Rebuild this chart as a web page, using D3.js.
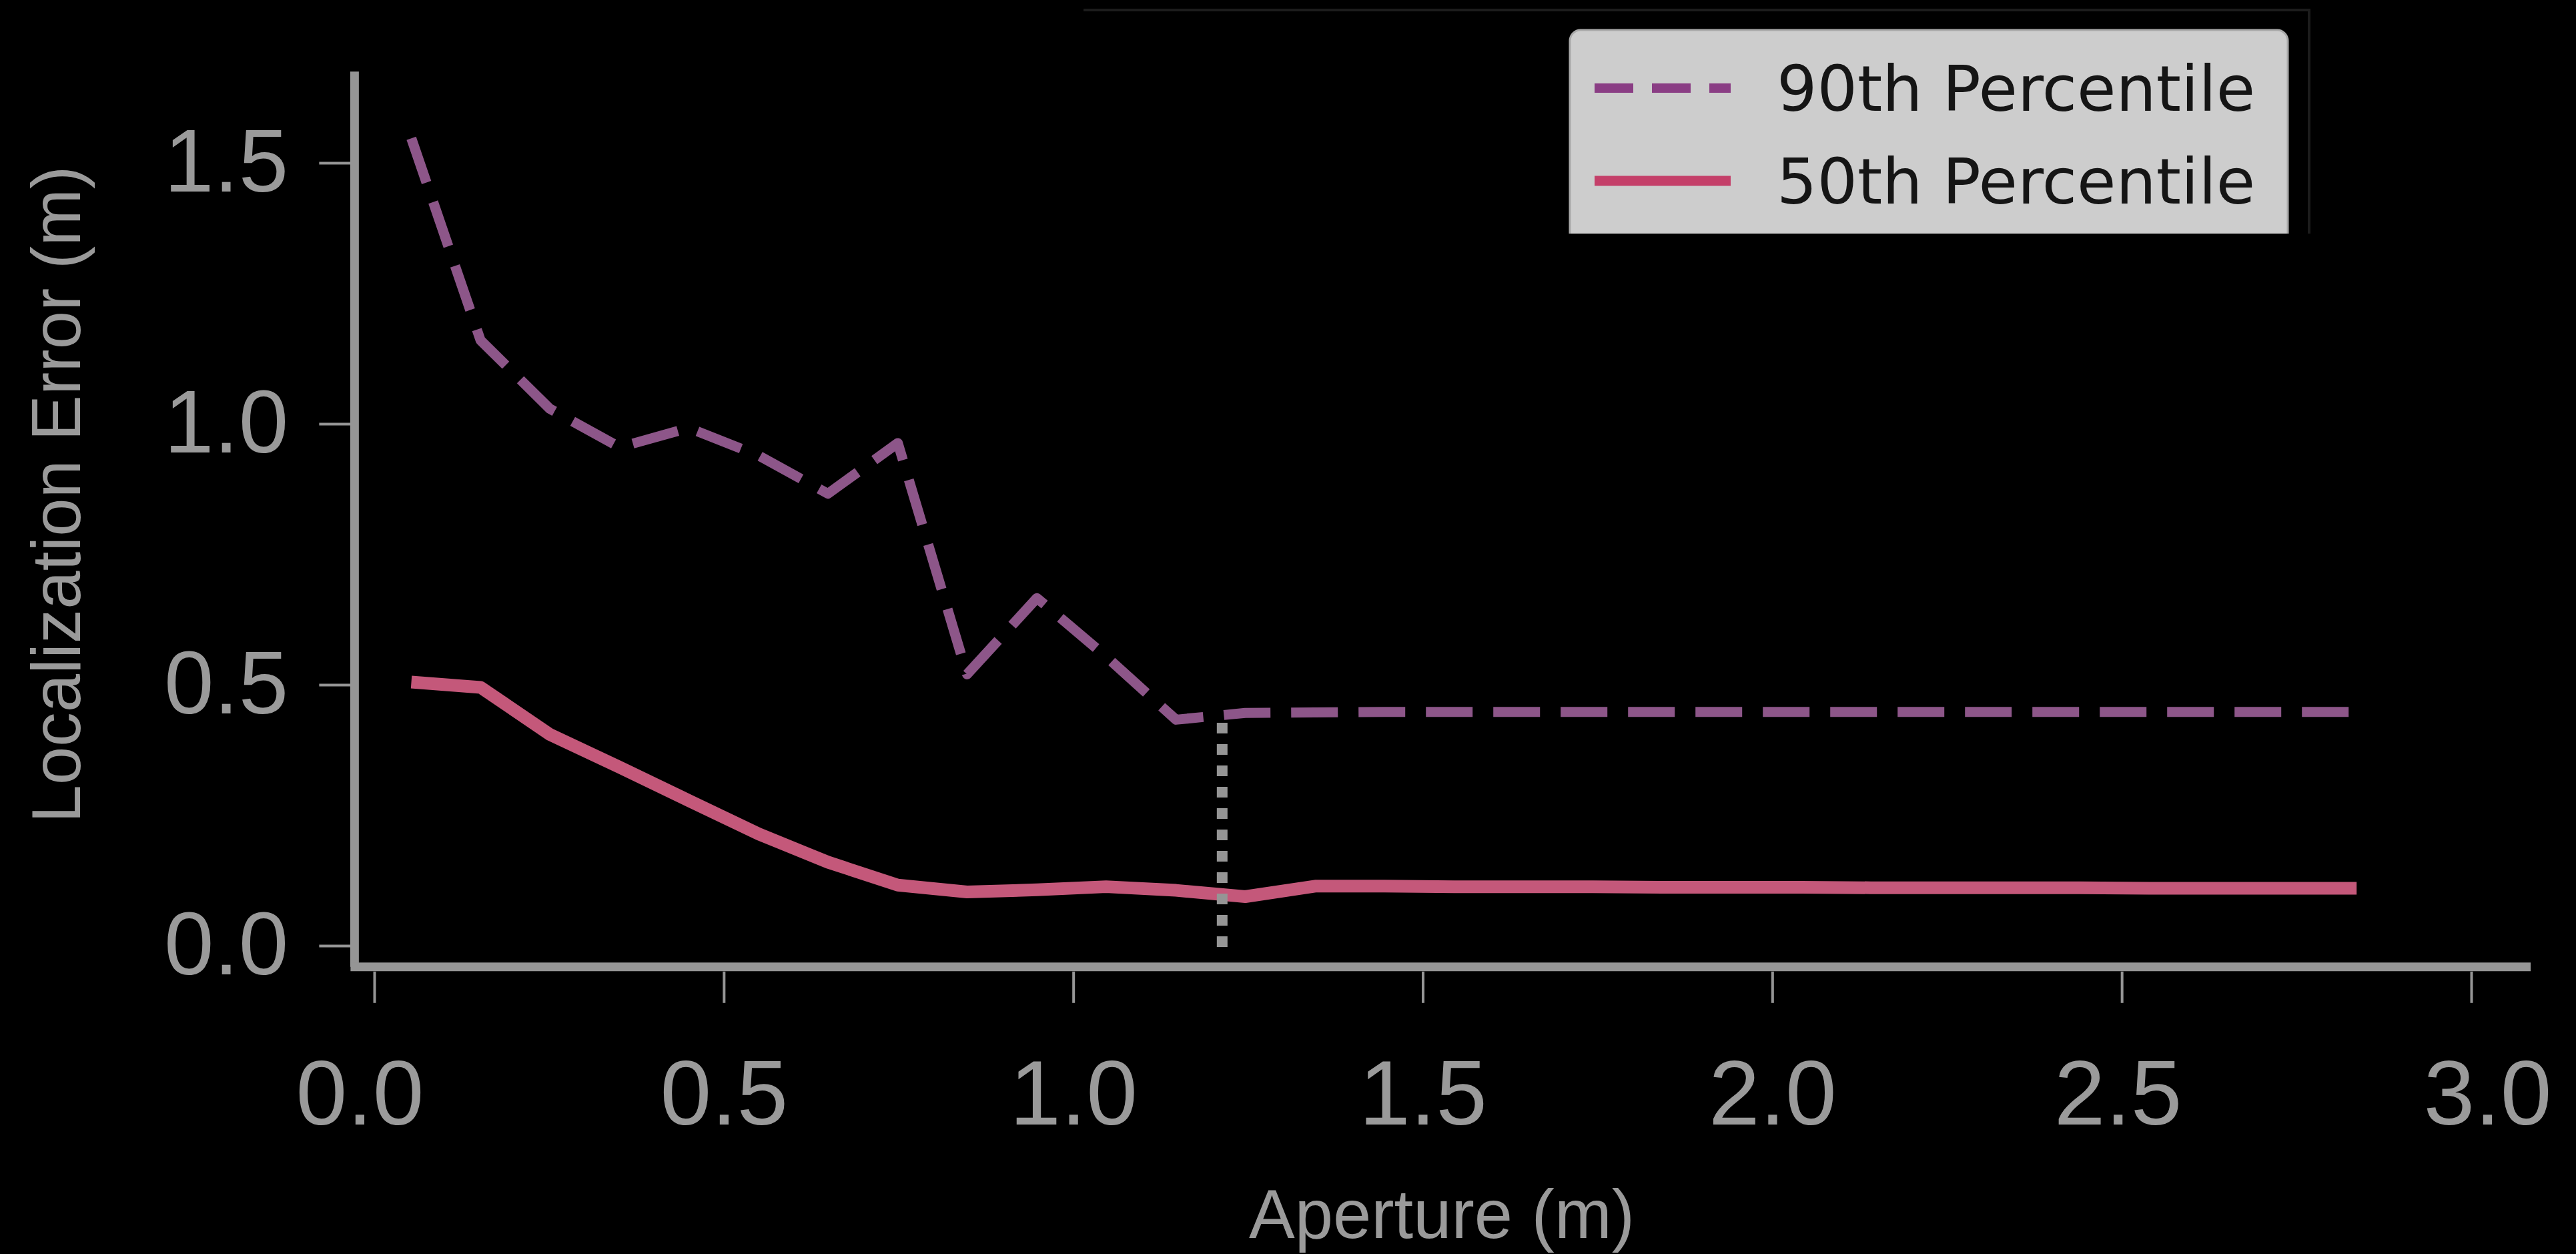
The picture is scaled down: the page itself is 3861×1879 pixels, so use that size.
<!DOCTYPE html>
<html>
<head>
<meta charset="utf-8">
<script src="https://cdn.jsdelivr.net/npm/d3@7"></script>
<style>
  html, body { margin: 0; padding: 0; background: #000; }
  svg { display: block; }
</style>
</head>
<body>
<svg id="chart" width="3861" height="1879"></svg>
<script>
// ---- data ----
const aperture = [0.053, 0.152, 0.251, 0.351, 0.450, 0.550, 0.649, 0.749, 0.848, 0.948,
                  1.047, 1.147, 1.246, 1.346, 1.445, 1.545, 1.644, 1.743, 1.843, 1.942,
                  2.042, 2.141, 2.241, 2.340, 2.440, 2.539, 2.639, 2.738, 2.836];
const p90 = [1.547, 1.160, 1.029, 0.955, 0.992, 0.939, 0.866, 0.963, 0.520, 0.666,
             0.554, 0.433, 0.446, 0.447, 0.448, 0.448, 0.448, 0.448, 0.448, 0.448,
             0.448, 0.448, 0.448, 0.448, 0.448, 0.448, 0.448, 0.448, 0.448];
const p50 = [0.505, 0.495, 0.405, 0.342, 0.278, 0.214, 0.160, 0.116, 0.103, 0.107,
             0.113, 0.106, 0.094, 0.114, 0.114, 0.113, 0.113, 0.113, 0.112, 0.112,
             0.112, 0.111, 0.111, 0.111, 0.111, 0.110, 0.110, 0.110, 0.110];
const markerX = [1.213];
const markerY = [0.427];
const xTicks = [0.0, 0.5, 1.0, 1.5, 2.0, 2.5, 3.0];
const yTicks = [0.0, 0.5, 1.0, 1.5];
const seriesNames = ["90th Percentile", "50th Percentile"];
const xExtent = [-0.034, 3.085];
const yExtent = [-0.033, 1.675];

// ---- setup ----
const svg = d3.select("#chart");
const x = d3.scaleLinear().domain([0, 3]).range([561, 3704]);
const y = d3.scaleLinear().domain([0, 1.5]).range([1417, 244]);

const axisColor = "#959595";
const textColor = "#9a9a9a";
const axisFont = "'Liberation Sans', Arial, Helvetica, sans-serif";

svg.append("rect").attr("width", 3861).attr("height", 1879).attr("fill", "#000");

// spines
svg.append("line")
  .attr("x1", x(xExtent[0]) + 6).attr("x2", x(xExtent[0]) + 6)
  .attr("y1", y(yExtent[1])).attr("y2", y(yExtent[0]) + 6)
  .attr("stroke", axisColor).attr("stroke-width", 13);
svg.append("line")
  .attr("x1", x(xExtent[0])).attr("x2", x(xExtent[1]))
  .attr("y1", y(yExtent[0]) + 6).attr("y2", y(yExtent[0]) + 6)
  .attr("stroke", axisColor).attr("stroke-width", 13);

// x axis ticks via d3 axis
const xAxis = d3.axisBottom(x).tickValues(xTicks).tickFormat(d3.format(".1f"))
  .tickSize(47).tickPadding(84);
const gx = svg.append("g").attr("transform", `translate(0,${y(yExtent[0]) + 13})`).call(xAxis);
gx.select(".domain").remove();
gx.selectAll(".tick line").attr("stroke", axisColor).attr("stroke-width", 4);
gx.selectAll(".tick text").attr("fill", textColor)
  .style("font-family", axisFont).style("font-size", "138px")
  .attr("dx", d => d === 0 ? -22 : (d === 3 ? 24 : (d === 2.5 ? -6 : 0)));

// y axis
const yAxis = d3.axisLeft(y).tickValues(yTicks).tickFormat(d3.format(".1f"))
  .tickSize(47).tickPadding(46);
const gy = svg.append("g").attr("transform", `translate(${x(xExtent[0])},0)`).call(yAxis);
gy.select(".domain").remove();
gy.selectAll(".tick line").attr("stroke", axisColor).attr("stroke-width", 4);
gy.selectAll(".tick text").attr("fill", textColor)
  .style("font-family", axisFont).style("font-size", "134px");

// axis titles
svg.append("text")
  .attr("x", 2161).attr("y", 1855)
  .attr("text-anchor", "middle")
  .attr("fill", textColor)
  .style("font-family", axisFont).style("font-size", "103px")
  .text("Aperture (m)");
svg.append("text")
  .attr("transform", "translate(120,741) rotate(-90)")
  .attr("text-anchor", "middle")
  .attr("fill", textColor)
  .style("font-family", axisFont).style("font-size", "103px")
  .text("Localization Error (m)");

// lines
const line = d3.line().x(d => x(d[0])).y(d => y(d[1]));
const d90 = aperture.map((a, i) => [a, p90[i]]);
const d50 = aperture.map((a, i) => [a, p50[i]]);

svg.append("path").datum(d50).attr("d", line)
  .attr("fill", "none").attr("stroke", "#c4587a").attr("stroke-width", 19)
  .attr("stroke-linejoin", "round");
svg.append("path").datum(d90).attr("d", line)
  .attr("fill", "none").attr("stroke", "#8d5689").attr("stroke-width", 15)
  .attr("stroke-dasharray", "70,31").attr("stroke-linejoin", "round");

// vertical dotted marker
svg.selectAll(".marker").data(markerX).enter().append("line")
  .attr("class", "marker")
  .attr("x1", d => x(d)).attr("x2", d => x(d))
  .attr("y1", (d, i) => y(markerY[i])).attr("y2", y(0) + 3)
  .attr("stroke", "#959595").attr("stroke-width", 16)
  .attr("stroke-dasharray", "16,16");

// outer frame (top and right edges) and legend
svg.append("path")
  .attr("d", "M1624,15 H3461 V350")
  .attr("fill", "none").attr("stroke", "#1c1c1c").attr("stroke-width", 4);

const clip = svg.append("defs").append("clipPath").attr("id", "legclip");
clip.append("rect").attr("x", 2300).attr("y", 0).attr("width", 1200).attr("height", 350);

const leg = svg.append("g").attr("clip-path", "url(#legclip)");
leg.append("rect")
  .attr("x", 2353).attr("y", 45).attr("width", 1076).attr("height", 400)
  .attr("rx", 16).attr("fill", "#cdcdcd").attr("stroke", "#a9a9a9").attr("stroke-width", 3);

const legendStyles = [
  {color: "#8a3d84", dash: "58,28", yRow: 132, width: 14},
  {color: "#c43f69", dash: null, yRow: 271, width: 15}
];
seriesNames.forEach((name, i) => {
  const s = legendStyles[i];
  const l = leg.append("line")
    .attr("x1", 2390).attr("x2", 2594)
    .attr("y1", s.yRow).attr("y2", s.yRow)
    .attr("stroke", s.color).attr("stroke-width", s.width);
  if (s.dash) l.attr("stroke-dasharray", s.dash);
  leg.append("text")
    .attr("x", 2663).attr("y", s.yRow + 34)
    .attr("fill", "#151515")
    .style("font-family", "'DejaVu Sans', sans-serif").style("font-size", "95px")
    .text(name);
});
</script>
</body>
</html>
